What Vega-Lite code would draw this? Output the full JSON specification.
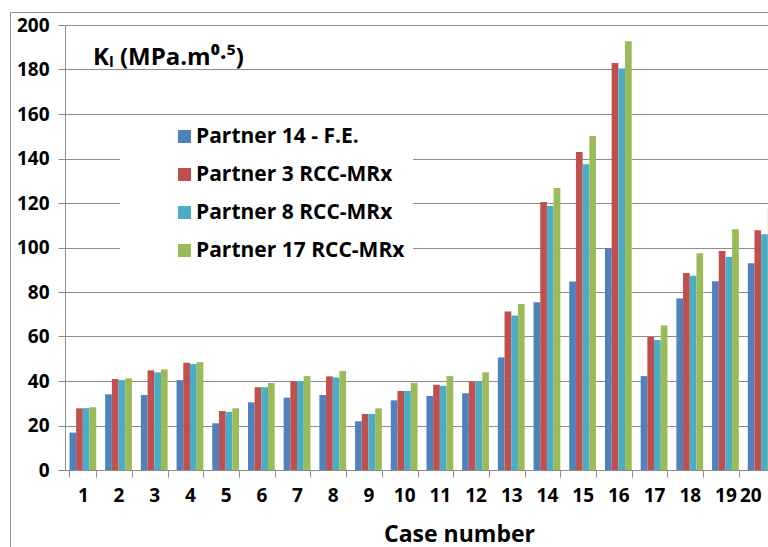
{
  "$schema": "https://vega.github.io/schema/vega-lite/v6.json",
  "width": 761,
  "height": 538,
  "autosize": {"type": "none"},
  "padding": {"left": 10, "top": 12, "right": -3, "bottom": -3},
  "background": "white",
  "title": {
    "text": "Kₗ (MPa.m⁰·⁵)",
    "anchor": "start",
    "frame": "group",
    "orient": "top",
    "offset": -58,
    "dx": 83,
    "fontSize": 24,
    "fontWeight": "bold",
    "font": "Open Sans",
    "color": "#000000"
  },
  "data": {
    "values": [
      {"case": 1, "partner": "Partner 14 - F.E.", "ki": 16.8},
      {"case": 1, "partner": "Partner 3 RCC-MRx", "ki": 27.7},
      {"case": 1, "partner": "Partner 8 RCC-MRx", "ki": 27.8},
      {"case": 1, "partner": "Partner 17 RCC-MRx", "ki": 28.2},
      {"case": 2, "partner": "Partner 14 - F.E.", "ki": 34.0},
      {"case": 2, "partner": "Partner 3 RCC-MRx", "ki": 40.9},
      {"case": 2, "partner": "Partner 8 RCC-MRx", "ki": 40.4},
      {"case": 2, "partner": "Partner 17 RCC-MRx", "ki": 41.2},
      {"case": 3, "partner": "Partner 14 - F.E.", "ki": 33.7},
      {"case": 3, "partner": "Partner 3 RCC-MRx", "ki": 44.8},
      {"case": 3, "partner": "Partner 8 RCC-MRx", "ki": 43.9},
      {"case": 3, "partner": "Partner 17 RCC-MRx", "ki": 45.2},
      {"case": 4, "partner": "Partner 14 - F.E.", "ki": 40.4},
      {"case": 4, "partner": "Partner 3 RCC-MRx", "ki": 48.2},
      {"case": 4, "partner": "Partner 8 RCC-MRx", "ki": 47.6},
      {"case": 4, "partner": "Partner 17 RCC-MRx", "ki": 48.5},
      {"case": 5, "partner": "Partner 14 - F.E.", "ki": 21.0},
      {"case": 5, "partner": "Partner 3 RCC-MRx", "ki": 26.5},
      {"case": 5, "partner": "Partner 8 RCC-MRx", "ki": 26.1},
      {"case": 5, "partner": "Partner 17 RCC-MRx", "ki": 27.7},
      {"case": 6, "partner": "Partner 14 - F.E.", "ki": 30.4},
      {"case": 6, "partner": "Partner 3 RCC-MRx", "ki": 37.2},
      {"case": 6, "partner": "Partner 8 RCC-MRx", "ki": 37.2},
      {"case": 6, "partner": "Partner 17 RCC-MRx", "ki": 39.1},
      {"case": 7, "partner": "Partner 14 - F.E.", "ki": 32.5},
      {"case": 7, "partner": "Partner 3 RCC-MRx", "ki": 40.0},
      {"case": 7, "partner": "Partner 8 RCC-MRx", "ki": 40.0},
      {"case": 7, "partner": "Partner 17 RCC-MRx", "ki": 42.2},
      {"case": 8, "partner": "Partner 14 - F.E.", "ki": 33.7},
      {"case": 8, "partner": "Partner 3 RCC-MRx", "ki": 42.1},
      {"case": 8, "partner": "Partner 8 RCC-MRx", "ki": 41.6},
      {"case": 8, "partner": "Partner 17 RCC-MRx", "ki": 44.5},
      {"case": 9, "partner": "Partner 14 - F.E.", "ki": 21.9},
      {"case": 9, "partner": "Partner 3 RCC-MRx", "ki": 25.2},
      {"case": 9, "partner": "Partner 8 RCC-MRx", "ki": 25.2},
      {"case": 9, "partner": "Partner 17 RCC-MRx", "ki": 27.7},
      {"case": 10, "partner": "Partner 14 - F.E.", "ki": 31.3},
      {"case": 10, "partner": "Partner 3 RCC-MRx", "ki": 35.5},
      {"case": 10, "partner": "Partner 8 RCC-MRx", "ki": 35.5},
      {"case": 10, "partner": "Partner 17 RCC-MRx", "ki": 39.2},
      {"case": 11, "partner": "Partner 14 - F.E.", "ki": 33.3},
      {"case": 11, "partner": "Partner 3 RCC-MRx", "ki": 38.3},
      {"case": 11, "partner": "Partner 8 RCC-MRx", "ki": 37.8},
      {"case": 11, "partner": "Partner 17 RCC-MRx", "ki": 42.2},
      {"case": 12, "partner": "Partner 14 - F.E.", "ki": 34.5},
      {"case": 12, "partner": "Partner 3 RCC-MRx", "ki": 39.7},
      {"case": 12, "partner": "Partner 8 RCC-MRx", "ki": 39.7},
      {"case": 12, "partner": "Partner 17 RCC-MRx", "ki": 43.9},
      {"case": 13, "partner": "Partner 14 - F.E.", "ki": 50.6},
      {"case": 13, "partner": "Partner 3 RCC-MRx", "ki": 71.2},
      {"case": 13, "partner": "Partner 8 RCC-MRx", "ki": 69.4},
      {"case": 13, "partner": "Partner 17 RCC-MRx", "ki": 74.6},
      {"case": 14, "partner": "Partner 14 - F.E.", "ki": 75.4},
      {"case": 14, "partner": "Partner 3 RCC-MRx", "ki": 120.4},
      {"case": 14, "partner": "Partner 8 RCC-MRx", "ki": 118.7},
      {"case": 14, "partner": "Partner 17 RCC-MRx", "ki": 126.7},
      {"case": 15, "partner": "Partner 14 - F.E.", "ki": 84.7},
      {"case": 15, "partner": "Partner 3 RCC-MRx", "ki": 142.9},
      {"case": 15, "partner": "Partner 8 RCC-MRx", "ki": 137.4},
      {"case": 15, "partner": "Partner 17 RCC-MRx", "ki": 150.1},
      {"case": 16, "partner": "Partner 14 - F.E.", "ki": 99.8},
      {"case": 16, "partner": "Partner 3 RCC-MRx", "ki": 182.9},
      {"case": 16, "partner": "Partner 8 RCC-MRx", "ki": 180.4},
      {"case": 16, "partner": "Partner 17 RCC-MRx", "ki": 192.7},
      {"case": 17, "partner": "Partner 14 - F.E.", "ki": 42.2},
      {"case": 17, "partner": "Partner 3 RCC-MRx", "ki": 59.8},
      {"case": 17, "partner": "Partner 8 RCC-MRx", "ki": 58.4},
      {"case": 17, "partner": "Partner 17 RCC-MRx", "ki": 65.0},
      {"case": 18, "partner": "Partner 14 - F.E.", "ki": 77.1},
      {"case": 18, "partner": "Partner 3 RCC-MRx", "ki": 88.5},
      {"case": 18, "partner": "Partner 8 RCC-MRx", "ki": 87.3},
      {"case": 18, "partner": "Partner 17 RCC-MRx", "ki": 97.4},
      {"case": 19, "partner": "Partner 14 - F.E.", "ki": 84.8},
      {"case": 19, "partner": "Partner 3 RCC-MRx", "ki": 98.4},
      {"case": 19, "partner": "Partner 8 RCC-MRx", "ki": 95.7},
      {"case": 19, "partner": "Partner 17 RCC-MRx", "ki": 108.2},
      {"case": 20, "partner": "Partner 14 - F.E.", "ki": 92.9},
      {"case": 20, "partner": "Partner 3 RCC-MRx", "ki": 107.7},
      {"case": 20, "partner": "Partner 8 RCC-MRx", "ki": 105.9},
      {"case": 20, "partner": "Partner 17 RCC-MRx", "ki": 118.2}
    ]
  },
  "mark": {"type": "bar"},
  "encoding": {
    "x": {
      "field": "case",
      "type": "ordinal",
      "scale": {"range": [55, 769], "paddingInner": 0.25, "paddingOuter": 0.125},
      "axis": {
        "title": "Case number",
        "offset": -80,
        "titleX": 449,
        "titleY": 71,
        "titleAnchor": "middle",
        "titleAlign": "center",
        "titleBaseline": "alphabetic",
        "titleFontSize": 23,
        "labelAngle": 0,
        "labelAlign": {"condition": {"test": "datum.value == 20", "value": "right"}, "value": "center"},
        "tickBand": "extent",
        "grid": false
      }
    },
    "xOffset": {
      "field": "partner",
      "type": "nominal",
      "sort": ["Partner 14 - F.E.", "Partner 3 RCC-MRx", "Partner 8 RCC-MRx", "Partner 17 RCC-MRx"],
      "scale": {"paddingInner": 0, "paddingOuter": 0}
    },
    "y": {
      "field": "ki",
      "type": "quantitative",
      "scale": {"domain": [0, 200], "nice": false, "range": [458, 13]},
      "axis": {
        "title": null,
        "offset": -55,
        "values": [0, 20, 40, 60, 80, 100, 120, 140, 160, 180, 200],
        "grid": true
      }
    },
    "color": {
      "field": "partner",
      "type": "nominal",
      "sort": ["Partner 14 - F.E.", "Partner 3 RCC-MRx", "Partner 8 RCC-MRx", "Partner 17 RCC-MRx"],
      "scale": {
        "domain": ["Partner 14 - F.E.", "Partner 3 RCC-MRx", "Partner 8 RCC-MRx", "Partner 17 RCC-MRx"],
        "range": ["#4F81BD", "#C0504D", "#4BACC6", "#9BBB59"]
      },
      "legend": {
        "title": null,
        "orient": "none",
        "legendX": 110,
        "legendY": 106,
        "fillColor": "white",
        "padding": 8,
        "symbolOffset": 46,
        "symbolType": "square",
        "symbolSize": 169,
        "symbolStrokeWidth": 0,
        "labelOffset": 1,
        "labelFontSize": 21,
        "labelFontWeight": "bold",
        "labelFont": "Open Sans",
        "labelColor": "#000000",
        "labelLimit": 400,
        "rowPadding": 16
      }
    }
  },
  "config": {
    "view": {"stroke": "#8c8c8c", "strokeWidth": 1},
    "axis": {
      "labelFont": "Open Sans",
      "labelFontSize": 19,
      "labelFontWeight": "bold",
      "labelColor": "#000000",
      "titleFont": "Open Sans",
      "titleFontWeight": "bold",
      "titleColor": "#000000",
      "domainColor": "#8c8c8c",
      "tickColor": "#8c8c8c",
      "gridColor": "#8c8c8c",
      "gridWidth": 1,
      "tickSize": 7,
      "labelPadding": 9
    }
  }
}
